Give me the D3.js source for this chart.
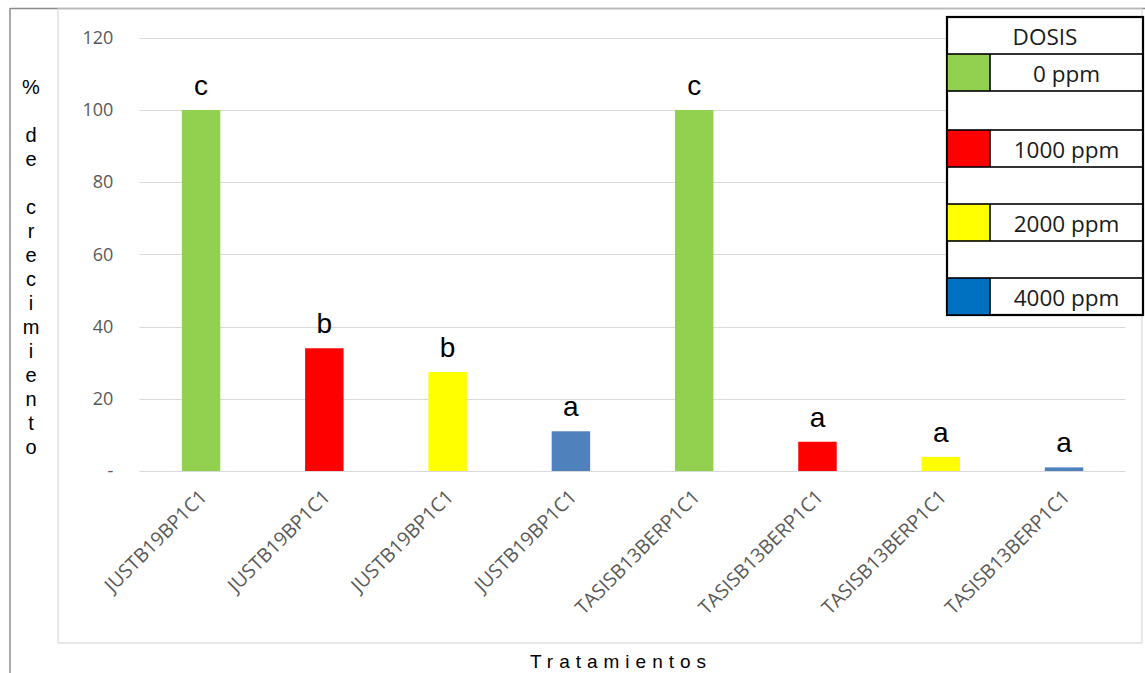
<!DOCTYPE html>
<html>
<head>
<meta charset="utf-8">
<script src="https://cdn.jsdelivr.net/npm/d3@7/dist/d3.min.js"></script>
<style>
  html, body { margin: 0; padding: 0; background: #fff; }
  svg { display: block; }
</style>
</head>
<body>
<svg id="chart" width="1145" height="673"></svg>
<script>
// Treatments (one bar per treatment x dose)
const treatments = [
  "JUSTB19BP1C1", "JUSTB19BP1C1", "JUSTB19BP1C1", "JUSTB19BP1C1",
  "TASISB13BERP1C1", "TASISB13BERP1C1", "TASISB13BERP1C1", "TASISB13BERP1C1"
];
const doseOfBar = ["0 ppm", "1000 ppm", "2000 ppm", "4000 ppm",
                   "0 ppm", "1000 ppm", "2000 ppm", "4000 ppm"];
// % de crecimiento
const growth = [100, 34, 27.4, 11, 100, 8.1, 3.9, 1.0];
// significance groups
const groupLetters = ["c", "b", "b", "a", "c", "a", "a", "a"];

const doses = ["0 ppm", "1000 ppm", "2000 ppm", "4000 ppm"];
const barColors = ["#92d050", "#ff0000", "#ffff00", "#4f81bd"];
const legendColors = ["#92d050", "#ff0000", "#ffff00", "#0070c0"];

const yTicks = [0, 20, 40, 60, 80, 100, 120];
const yTickLabels = ["-", "20", "40", "60", "80", "100", "120"];

const yTitleLines = ["%", "", "d", "e", "", "c", "r", "e", "c", "i", "m", "i", "e", "n", "t", "o"];

const svg = d3.select("#chart");

// frame lines
svg.append("line").attr("x1", 10).attr("x2", 1145).attr("y1", 8.5).attr("y2", 8.5)
  .attr("stroke", "#8c8c8c").attr("stroke-width", 1.5);
svg.append("line").attr("x1", 10).attr("x2", 10).attr("y1", 8).attr("y2", 673)
  .attr("stroke", "#8c8c8c").attr("stroke-width", 1.5);
// chart-area panel
svg.append("rect").attr("x", 58).attr("y", 9).attr("width", 1084).attr("height", 634)
  .attr("fill", "none").attr("stroke", "#d9d9d9").attr("stroke-width", 1.2);

const plotLeft = 139.4, plotRight = 1125.7;
const x = d3.scaleBand()
  .domain(d3.range(growth.length))
  .range([plotLeft, plotRight])
  .paddingInner(0.688)
  .paddingOuter(0.344);

const y = d3.scaleLinear().domain([0, 120]).range([471, 37.8]);

// gridlines
svg.append("g")
  .selectAll("line")
  .data(yTicks)
  .join("line")
  .attr("x1", plotLeft).attr("x2", plotRight)
  .attr("y1", d => Math.round(y(d)) + 0.5).attr("y2", d => Math.round(y(d)) + 0.5)
  .attr("stroke", "#d9d9d9").attr("stroke-width", 1.2);

// y axis labels
const yAxis = d3.axisLeft(y)
  .tickValues(yTicks)
  .tickFormat((d, i) => yTickLabels[i])
  .tickSize(0)
  .tickPadding(26);
const gy = svg.append("g").attr("transform", `translate(${plotLeft},0)`).call(yAxis);
gy.select(".domain").remove();
gy.selectAll("text")
  .attr("font-family", "'Open Sans', sans-serif")
  .attr("font-size", 18)
  .attr("fill", "#595959");

// bars
svg.append("g")
  .selectAll("rect")
  .data(growth)
  .join("rect")
  .attr("x", (d, i) => x(i))
  .attr("width", x.bandwidth())
  .attr("y", d => y(d))
  .attr("height", d => y(0) - y(d))
  .attr("fill", (d, i) => barColors[doses.indexOf(doseOfBar[i])]);

// group letters above bars
svg.append("g")
  .selectAll("text")
  .data(growth)
  .join("text")
  .attr("x", (d, i) => x(i) + x.bandwidth() / 2)
  .attr("y", d => y(d) - 15)
  .attr("text-anchor", "middle")
  .attr("font-family", "'Liberation Sans', Arial, sans-serif")
  .attr("font-size", 28)
  .attr("fill", "#000")
  .text((d, i) => groupLetters[i]);

// x axis labels
const xAxis = d3.axisBottom(x).tickFormat(i => treatments[i]).tickSize(0);
const gx = svg.append("g").attr("transform", "translate(0,471)").call(xAxis);
gx.select(".domain").remove();
gx.selectAll("text")
  .attr("font-family", "'Open Sans', sans-serif")
  .attr("font-size", 19.5)
  .attr("fill", "#595959")
  .attr("text-anchor", "end")
  .attr("dy", null)
  .attr("y", 0)
  .attr("transform", "translate(7,27) rotate(-45)");

// axis titles
svg.append("text")
  .attr("x", 621).attr("y", 668)
  .attr("text-anchor", "middle")
  .attr("font-family", "'Liberation Sans', Arial, sans-serif")
  .attr("font-size", 19)
  .attr("letter-spacing", 6)
  .attr("fill", "#000")
  .text("Tratamientos");

svg.append("g")
  .selectAll("text")
  .data(yTitleLines)
  .join("text")
  .attr("x", 31)
  .attr("y", (d, i) => 94 + i * 24)
  .attr("text-anchor", "middle")
  .attr("font-family", "'Liberation Sans', Arial, sans-serif")
  .attr("font-size", 20)
  .attr("fill", "#000")
  .text(d => d);

// legend table
const lgX = 947, lgW = 196, swW = 43;
const lgTop = 17;
const rowTops = [54, 130, 204, 278];
const rowH = 37;
const lg = svg.append("g");
lg.append("rect").attr("x", lgX).attr("y", lgTop).attr("width", lgW).attr("height", 315 - lgTop)
  .attr("fill", "#fff").attr("stroke", "#000").attr("stroke-width", 2.2);
lg.append("text")
  .attr("x", lgX + lgW / 2).attr("y", lgTop + 28)
  .attr("text-anchor", "middle")
  .attr("font-family", "'Open Sans', sans-serif")
  .attr("font-size", 22.5)
  .attr("fill", "#1a1a1a")
  .text("DOSIS");
const rows = lg.selectAll("g.row").data(doses).join("g").attr("class", "row");
rows.append("rect")
  .attr("x", lgX).attr("y", (d, i) => rowTops[i])
  .attr("width", swW).attr("height", rowH)
  .attr("fill", (d, i) => legendColors[i]);
rows.append("rect")
  .attr("x", lgX).attr("y", (d, i) => rowTops[i])
  .attr("width", lgW).attr("height", rowH)
  .attr("fill", "none").attr("stroke", "#000").attr("stroke-width", 1.6);
rows.append("line")
  .attr("x1", lgX + swW).attr("x2", lgX + swW)
  .attr("y1", (d, i) => rowTops[i]).attr("y2", (d, i) => rowTops[i] + rowH)
  .attr("stroke", "#000").attr("stroke-width", 1.6);
rows.append("text")
  .attr("x", lgX + swW + (lgW - swW) / 2)
  .attr("y", (d, i) => rowTops[i] + 28)
  .attr("text-anchor", "middle")
  .attr("font-family", "'Open Sans', sans-serif")
  .attr("font-size", 22.5)
  .attr("fill", "#1a1a1a")
  .text(d => d);
</script>
</body>
</html>
